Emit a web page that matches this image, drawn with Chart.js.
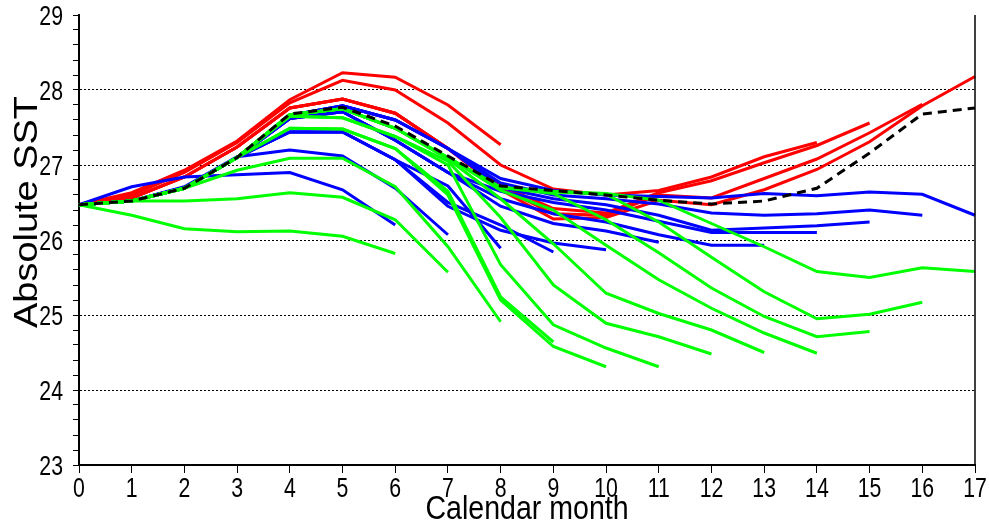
<!DOCTYPE html>
<html>
<head>
<meta charset="utf-8">
<script src="https://cdn.jsdelivr.net/npm/chart.js@4"></script>
<style>
  html, body { margin: 0; padding: 0; background: #fff; }
</style>
</head>
<body>
<canvas id="sst" width="989" height="522"></canvas>
<script>
const months = [0, 1, 2, 3, 4, 5, 6, 7, 8, 9, 10, 11, 12, 13, 14, 15, 16, 17];

// climatology (black dashed)
const meanSST = [26.47, 26.52, 26.69, 27.1, 27.68, 27.77, 27.52, 27.12, 26.72, 26.66, 26.6, 26.53, 26.48, 26.52, 26.69, 27.16, 27.68, 27.76];

// warm runs
const red1 = [26.47, 26.63, 26.93, 27.32, 27.87, 28.23, 28.17, 27.8, 27.27];
const red2 = [26.47, 26.6, 26.9, 27.3, 27.83, 28.13, 28.0, 27.56, 27.0, 26.68, 26.6, 26.66, 26.84, 27.11, 27.3];
const red3 = [26.47, 26.56, 26.84, 27.24, 27.76, 27.88, 27.69, 27.22, 26.73, 26.42, 26.36, 26.63, 26.79, 27.03, 27.26, 27.56];
const red4 = [26.47, 26.56, 26.84, 27.24, 27.76, 27.88, 27.69, 27.22, 26.7, 26.35, 26.33, 26.6, 26.56, 26.82, 27.08, 27.43, 27.81];
const red5 = [26.47, 26.56, 26.84, 27.24, 27.76, 27.88, 27.69, 27.22, 26.67, 26.28, 26.3, 26.53, 26.47, 26.67, 26.94, 27.31, 27.79, 28.18];

// neutral runs
const blue1 = [26.47, 26.71, 26.84, 26.87, 26.9, 26.67, 26.2];
const blue2 = [26.47, 26.52, 26.71, 27.11, 27.2, 27.12, 26.69, 26.07];
const blue3 = [26.47, 26.52, 26.7, 27.1, 27.44, 27.44, 27.07, 26.72, 25.89];
const blue4 = [26.47, 26.52, 26.7, 27.1, 27.44, 27.44, 27.07, 26.5, 26.2, 25.84];
const blue5 = [26.47, 26.52, 26.7, 27.1, 27.44, 27.44, 27.07, 26.45, 26.13, 25.96, 25.87];
const blue6 = [26.47, 26.52, 26.69, 27.1, 27.62, 27.71, 27.33, 26.9, 26.45, 26.22, 26.12, 25.97];
const blue7 = [26.47, 26.52, 26.69, 27.1, 27.62, 27.71, 27.33, 26.9, 26.55, 26.35, 26.24, 26.07, 25.93, 25.93];
const blue8 = [26.47, 26.52, 26.69, 27.1, 27.62, 27.71, 27.33, 26.9, 26.65, 26.5, 26.4, 26.25, 26.1, 26.1, 26.1];
const blue9 = [26.47, 26.52, 26.69, 27.1, 27.66, 27.79, 27.6, 27.22, 26.7, 26.55, 26.47, 26.33, 26.13, 26.16, 26.19, 26.24];
const blue10 = [26.47, 26.52, 26.69, 27.1, 27.66, 27.79, 27.6, 27.22, 26.76, 26.6, 26.55, 26.48, 26.36, 26.33, 26.35, 26.4, 26.33];
const blue11 = [26.47, 26.52, 26.69, 27.1, 27.66, 27.79, 27.6, 27.22, 26.82, 26.66, 26.6, 26.58, 26.56, 26.62, 26.59, 26.64, 26.61, 26.33];

// cold runs
const green1 = [26.47, 26.33, 26.15, 26.11, 26.12, 26.05, 25.82];
const green2 = [26.47, 26.52, 26.52, 26.55, 26.63, 26.57, 26.27, 25.57];
const green3 = [26.47, 26.52, 26.69, 26.93, 27.09, 27.09, 26.71, 25.91, 24.91];
const green4 = [26.47, 26.52, 26.69, 27.1, 27.49, 27.48, 27.22, 26.65, 25.24, 24.64];
const green5 = [26.47, 26.52, 26.69, 27.1, 27.49, 27.48, 27.22, 26.6, 25.2, 24.58, 24.31];
const green6 = [26.47, 26.52, 26.69, 27.1, 27.65, 27.63, 27.38, 27.0, 25.67, 24.87, 24.56, 24.31];
const green7 = [26.47, 26.52, 26.69, 27.1, 27.65, 27.63, 27.38, 27.05, 26.3, 25.4, 24.89, 24.71, 24.48];
const green8 = [26.47, 26.52, 26.69, 27.1, 27.67, 27.75, 27.49, 27.08, 26.55, 25.95, 25.29, 25.02, 24.8, 24.5];
const green9 = [26.47, 26.52, 26.69, 27.1, 27.67, 27.75, 27.49, 27.1, 26.66, 26.4, 25.93, 25.47, 25.09, 24.76, 24.49];
const green10 = [26.47, 26.52, 26.69, 27.1, 27.67, 27.75, 27.49, 27.1, 26.7, 26.62, 26.27, 25.83, 25.36, 24.98, 24.71, 24.78];
const green11 = [26.47, 26.52, 26.69, 27.1, 27.67, 27.75, 27.49, 27.1, 26.7, 26.64, 26.61, 26.24, 25.77, 25.31, 24.95, 25.01, 25.17];
const green12 = [26.47, 26.52, 26.69, 27.1, 27.67, 27.75, 27.49, 27.1, 26.7, 26.65, 26.62, 26.53, 26.22, 25.91, 25.58, 25.5, 25.63, 25.58];

const redRuns = [red1, red2, red3, red4, red5];
const blueRuns = [blue1, blue2, blue3, blue4, blue5, blue6, blue7, blue8, blue9, blue10, blue11];
const greenRuns = [green1, green2, green3, green4, green5, green6, green7, green8, green9, green10, green11, green12];

const FACE = "'Liberation Sans', Arial, sans-serif";

function run(data, colour) {
  return { data: data, borderColor: colour, borderWidth: 3, pointRadius: 0, tension: 0, fill: false };
}

// first dataset is drawn on top
const datasets = [
  { data: meanSST, borderColor: '#000', borderWidth: 3, borderDash: [9, 6], pointRadius: 0, tension: 0, fill: false }
];
greenRuns.forEach(d => datasets.push(run(d, '#00ff00')));
blueRuns.forEach(d => datasets.push(run(d, '#0000ff')));
redRuns.forEach(d => datasets.push(run(d, '#ff0000')));

const isWhole = v => Math.abs(v - Math.round(v)) < 1e-6;

// draw text stretched by sx along its own direction
function squeezed(c, text, x, y, sx) {
  c.save();
  c.translate(x, y);
  c.scale(sx, 1);
  c.fillText(text, 0, 0);
  c.restore();
}

// right edge of the frame plus the axis texts
const decor = {
  id: 'decor',
  afterDraw(chart) {
    const a = chart.chartArea, c = chart.ctx;
    const xs = chart.scales.x, ys = chart.scales.y;
    c.save();
    c.strokeStyle = '#000';
    c.lineWidth = 1.5;
    c.beginPath();
    c.moveTo(a.right, a.top);
    c.lineTo(a.right, a.bottom);
    c.stroke();

    c.fillStyle = '#000';
    c.textBaseline = 'alphabetic';
    c.font = '28px ' + FACE;
    c.textAlign = 'right';
    ys.ticks.forEach(t => {
      if (isWhole(t.value)) squeezed(c, String(Math.round(t.value)), 63, ys.getPixelForValue(t.value) + 10, 0.76);
    });
    c.textAlign = 'center';
    xs.ticks.forEach((t, i) => squeezed(c, String(xs.getLabelForValue(t.value)), xs.getPixelForTick(i), 497, 0.76));

    c.font = '34px ' + FACE;
    squeezed(c, 'Calendar month', (a.left + a.right) / 2, 519, 0.84);

    c.translate(37, 212);
    c.rotate(-Math.PI / 2);
    c.font = '33px ' + FACE;
    squeezed(c, 'Absolute SST', 0, 0, 1.15);
    c.restore();
  }
};

new Chart(document.getElementById('sst'), {
  type: 'line',
  data: { labels: months, datasets: datasets },
  plugins: [decor],
  options: {
    responsive: false,
    animation: false,
    devicePixelRatio: 1,
    layout: { padding: { top: 15, right: 14, left: 0, bottom: 0 } },
    plugins: { legend: { display: false }, tooltip: { enabled: false } },
    scales: {
      x: {
        offset: false,
        afterFit(s) { s.height = 57; },
        grid: { drawOnChartArea: false, tickLength: 8, tickColor: '#000' },
        border: { color: '#000', width: 2 },
        ticks: { display: false, autoSkip: false, maxRotation: 0 }
      },
      y: {
        min: 23,
        max: 29,
        afterFit(s) { s.width = 79; },
        grid: {
          color: c => (isWhole(c.tick.value) && c.tick.value > 23 && c.tick.value < 29) ? '#000' : 'rgba(0,0,0,0)',
          tickColor: '#000',
          tickLength: 6,
          lineWidth: 1
        },
        border: { color: '#000', width: 2, dash: [2, 2] },
        ticks: { display: false, stepSize: 0.2, autoSkip: false }
      }
    }
  }
});
</script>
</body>
</html>
